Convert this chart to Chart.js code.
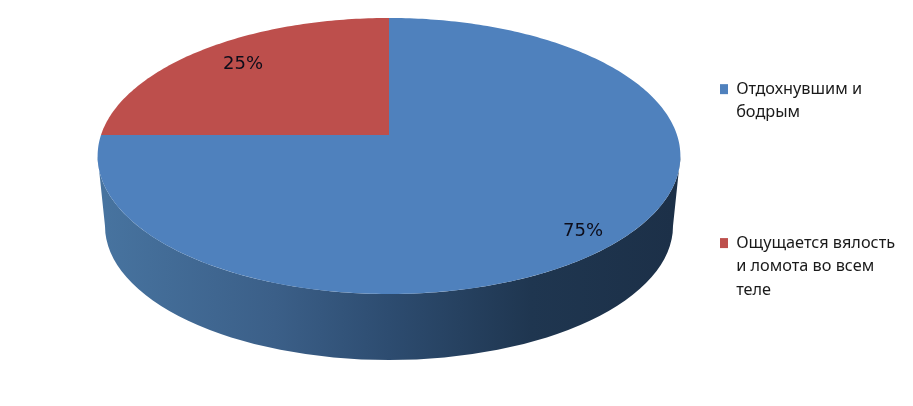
<!DOCTYPE html>
<html>
<head>
<meta charset="utf-8">
<style>
    html, body { margin: 0; padding: 0; background: #fff; }
    canvas { display: block; }
</style>
<script src="https://cdn.jsdelivr.net/npm/chart.js@4/dist/chart.umd.js"></script>
</head>
<body>
<canvas id="chart" width="913" height="406"></canvas>
<script>
const categories = [['Отдохнувшим и', 'бодрым'], ['Ощущается вялость', 'и ломота во всем', 'теле']];
const shares = [75, 25];
const sliceColors = ['#4f81bd', '#bd4f4c'];

// top face: a circle seen in perspective, so the apex sits above the ellipse middle
const face = { cx: 389, cy: 135, r: 288, tilt: 114.3, persp: 0.152 };
const base = { cx: 389, cy: 226, rx: 284, ry: 134 };
const labelAt = [[583, 231], [243, 64]];

function project(angle) {
    const u = Math.cos(angle);
    const v = -Math.sin(angle);
    const d = 1 + face.persp * v;
    return [face.cx + (face.r * u) / d, (face.cy - face.tilt * v) / d];
}

function traceRim(ctx, from, to) {
    const steps = Math.max(2, Math.ceil(Math.abs(to - from) * 60));
    for (let i = 0; i <= steps; i++) {
        const p = project(from + ((to - from) * i) / steps);
        ctx.lineTo(p[0], p[1]);
    }
}

const pie3d = {
    id: 'pie3d',
    afterLayout(chart) {
        // legend column sits where the reference has it
        const legend = chart.legend;
        const pad = legend.options.labels.padding;
        legend.left = 720 - pad;
        legend.right = 913;
        legend.top = 81 - pad;
        legend.bottom = 406;
    },
    beforeDatasetDraw(chart, args) {
        const ctx = chart.ctx;
        const arcs = args.meta.data;
        const edge = Math.asin(face.persp);

        ctx.save();
        arcs.forEach((arc) => {
            const from = Math.max(arc.startAngle, edge);
            const to = Math.min(arc.endAngle, Math.PI - edge);
            if (from >= to) return;
            const wall = ctx.createLinearGradient(base.cx - base.rx, 0, base.cx + base.rx, 0);
            wall.addColorStop(0, '#47739f');
            wall.addColorStop(0.3, '#3b5f88');
            wall.addColorStop(0.5, '#2d4c70');
            wall.addColorStop(0.75, '#1f3650');
            wall.addColorStop(1, '#1c3048');
            ctx.beginPath();
            traceRim(ctx, from, to);
            ctx.ellipse(base.cx, base.cy, base.rx, base.ry, 0, Math.PI, 0, true);
            ctx.closePath();
            ctx.fillStyle = wall;
            ctx.fill();
        });
        arcs.forEach((arc, i) => {
            ctx.beginPath();
            ctx.moveTo(face.cx, face.cy);
            traceRim(ctx, arc.startAngle, arc.endAngle);
            ctx.closePath();
            ctx.fillStyle = sliceColors[i];
            ctx.fill();
        });
        ctx.fillStyle = '#0d0d1a';
        ctx.font = '18px "DejaVu Sans"';
        ctx.textAlign = 'center';
        ctx.textBaseline = 'middle';
        shares.forEach((s, i) => ctx.fillText(s + '%', labelAt[i][0], labelAt[i][1]));
        ctx.restore();
        return false;
    },
};

new Chart(document.getElementById('chart'), {
    type: 'pie',
    data: {
        labels: categories,
        datasets: [{ data: shares, backgroundColor: sliceColors, borderWidth: 0 }],
    },
    options: {
        responsive: false,
        animation: false,
        plugins: {
            tooltip: { enabled: false },
            legend: {
                position: 'right',
                align: 'start',
                labels: {
                    boxWidth: 8,
                    boxHeight: 10,
                    padding: 107,
                    color: '#1a1a1a',
                    font: { family: "'Noto Sans', sans-serif", size: 16.3, lineHeight: 1.44 },
                },
            },
        },
    },
    plugins: [pie3d],
});
</script>
</body>
</html>
